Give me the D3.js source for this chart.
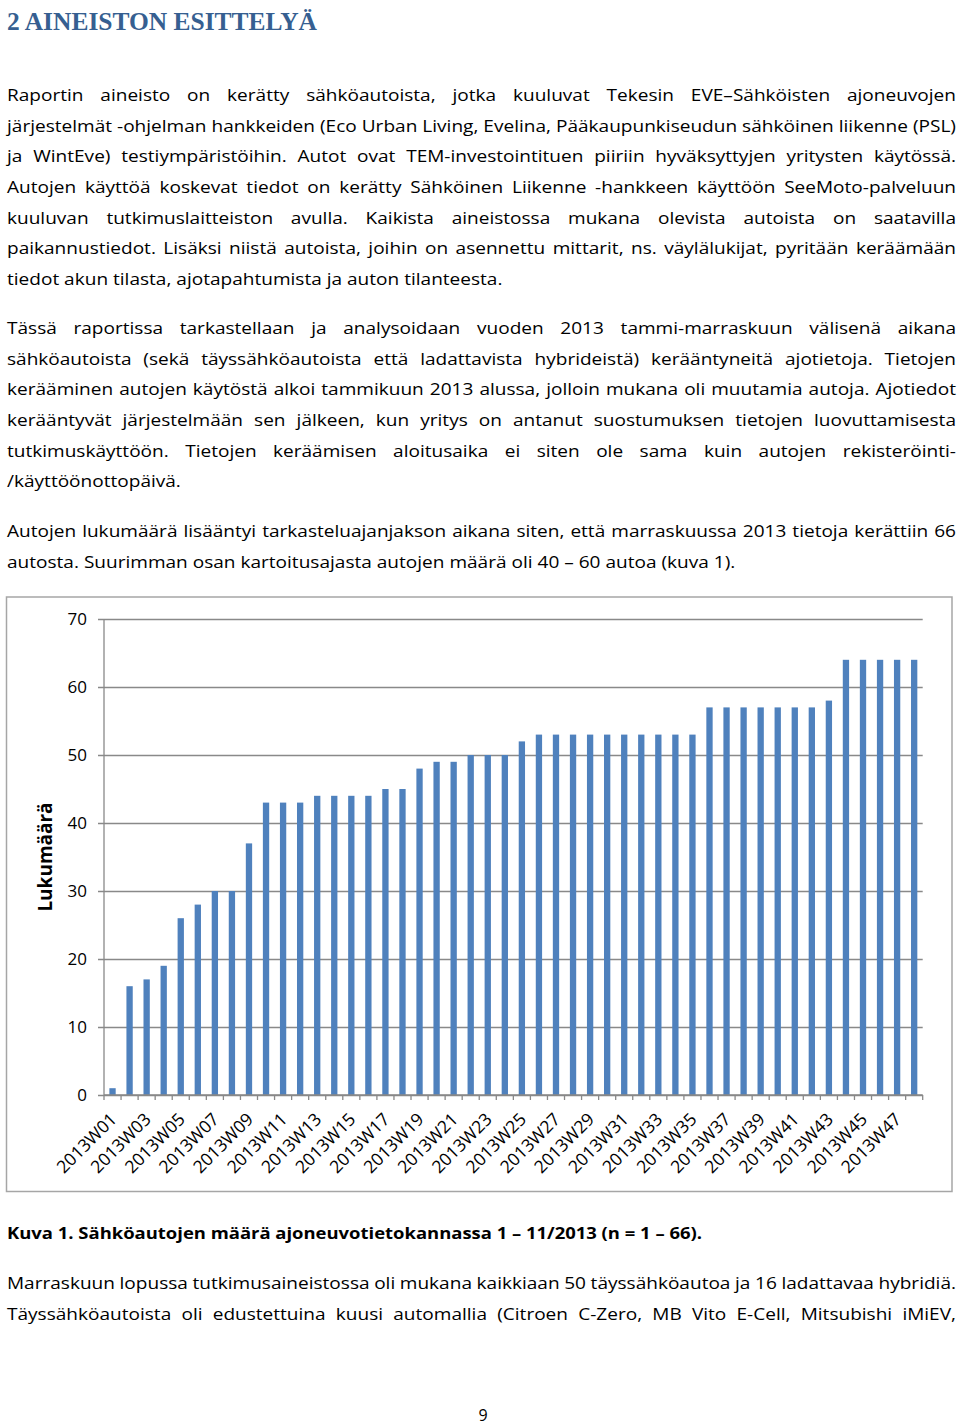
<!DOCTYPE html>
<html>
<head>
<meta charset="utf-8">
<script src="https://cdn.jsdelivr.net/npm/d3@7"></script>
<style>
  body { margin: 0; background: #fff; }
  svg text { font-family: "Open Sans", Lato, sans-serif; fill: #000; }
</style>
</head>
<body>
<svg id="page" width="960" height="1426"></svg>
<script>
// chart data
const weeks = ["2013W01","2013W02","2013W03","2013W04","2013W05","2013W06","2013W07","2013W08",
  "2013W09","2013W10","2013W11","2013W12","2013W13","2013W14","2013W15","2013W16",
  "2013W17","2013W18","2013W19","2013W20","2013W21","2013W22","2013W23","2013W24",
  "2013W25","2013W26","2013W27","2013W28","2013W29","2013W30","2013W31","2013W32",
  "2013W33","2013W34","2013W35","2013W36","2013W37","2013W38","2013W39","2013W40",
  "2013W41","2013W42","2013W43","2013W44","2013W45","2013W46","2013W47","2013W48"];
const carCounts = [1,16,17,19,26,28,30,30,
  37,43,43,43,44,44,44,44,
  45,45,48,49,49,50,50,50,
  52,53,53,53,53,53,53,53,
  53,53,53,57,57,57,57,57,
  57,57,58,64,64,64,64,64];
const yTicks = [0,10,20,30,40,50,60,70];
const yTitle = "Lukumäärä";

// page text, one entry per printed line
const heading = "2 AINEISTON ESITTELYÄ";
const para1 = [
  "Raportin aineisto on kerätty sähköautoista, jotka kuuluvat Tekesin EVE–Sähköisten ajoneuvojen",
  "järjestelmät -ohjelman hankkeiden (Eco Urban Living, Evelina, Pääkaupunkiseudun sähköinen liikenne (PSL)",
  "ja WintEve) testiympäristöihin. Autot ovat TEM-investointituen piiriin hyväksyttyjen yritysten käytössä.",
  "Autojen käyttöä koskevat tiedot on kerätty Sähköinen Liikenne -hankkeen käyttöön SeeMoto-palveluun",
  "kuuluvan tutkimuslaitteiston avulla. Kaikista aineistossa mukana olevista autoista on saatavilla",
  "paikannustiedot. Lisäksi niistä autoista, joihin on asennettu mittarit, ns. väylälukijat, pyritään keräämään",
  "tiedot akun tilasta, ajotapahtumista ja auton tilanteesta."
];
const para2 = [
  "Tässä raportissa tarkastellaan ja analysoidaan vuoden 2013 tammi-marraskuun välisenä aikana",
  "sähköautoista (sekä täyssähköautoista että ladattavista hybrideistä) kerääntyneitä ajotietoja. Tietojen",
  "kerääminen autojen käytöstä alkoi tammikuun 2013 alussa, jolloin mukana oli muutamia autoja. Ajotiedot",
  "kerääntyvät järjestelmään sen jälkeen, kun yritys on antanut suostumuksen tietojen luovuttamisesta",
  "tutkimuskäyttöön. Tietojen keräämisen aloitusaika ei siten ole sama kuin autojen rekisteröinti-",
  "/käyttöönottopäivä."
];
const para3 = [
  "Autojen lukumäärä lisääntyi tarkasteluajanjakson aikana siten, että marraskuussa 2013 tietoja kerättiin 66",
  "autosta. Suurimman osan kartoitusajasta autojen määrä oli 40 – 60 autoa (kuva 1)."
];
const caption = "Kuva 1. Sähköautojen määrä ajoneuvotietokannassa 1 – 11/2013 (n = 1 – 66).";
const para4 = [
  "Marraskuun lopussa tutkimusaineistossa oli mukana kaikkiaan 50 täyssähköautoa ja 16 ladattavaa hybridiä.",
  "Täyssähköautoista oli edustettuina kuusi automallia (Citroen C-Zero, MB Vito E-Cell, Mitsubishi iMiEV,"
];
const pageNo = "9";

const svg = d3.select("#page");
const textLeft = 7, textRight = 956, lineH = 30.67, bodySize = 16;

// heading
svg.append("text")
  .attr("x", textLeft).attr("y", 30)
  .attr("textLength", 310).attr("lengthAdjust", "spacingAndGlyphs")
  .style("font-family", "'Liberation Serif', 'DejaVu Serif', serif")
  .style("font-weight", "bold").style("font-size", "26px")
  .style("fill", "#365f91")
  .text(heading);

// the printed body font is wider than Open Sans, so widen the body text a bit
const probe = svg.append("text").style("font-size", bodySize + "px").text(para1[para1.length - 1]);
const stretch = 496 / probe.node().getComputedTextLength();
probe.remove();

const body = svg.append("g").attr("transform", `scale(${stretch},1)`);

// draw a paragraph; justified lines get stretched word spacing
function drawPara(lines, y0, justifyLast) {
  lines.forEach((line, i) => {
    const t = body.append("text")
      .attr("x", textLeft / stretch).attr("y", y0 + i * lineH)
      .style("font-size", bodySize + "px")
      .text(line);
    const last = i === lines.length - 1;
    if (!last || justifyLast) {
      const w = t.node().getComputedTextLength();
      const gaps = line.split(" ").length - 1;
      if (gaps > 0) t.attr("word-spacing", ((textRight - textLeft) / stretch - w) / gaps);
    }
  });
}

drawPara(para1, 101, false);
drawPara(para2, 334, false);
drawPara(para3, 537.5, false);
drawPara(para4, 1289, true);

// bold caption is narrower in print than Open Sans bold
svg.append("text")
  .attr("x", textLeft).attr("y", 1239)
  .attr("textLength", 695).attr("lengthAdjust", "spacingAndGlyphs")
  .style("font-size", bodySize + "px").style("font-weight", "bold")
  .text(caption);

svg.append("text")
  .attr("x", 483).attr("y", 1421)
  .attr("text-anchor", "middle")
  .style("font-size", bodySize + "px")
  .text(pageNo);

// ---- chart ----
const frame = {left: 6.5, top: 597, right: 952, bottom: 1191.5};
svg.append("rect")
  .attr("x", frame.left).attr("y", frame.top)
  .attr("width", frame.right - frame.left).attr("height", frame.bottom - frame.top)
  .attr("fill", "#fff").attr("stroke", "#a6a6a6").attr("stroke-width", 1.5);

const plot = {left: 104, right: 922.7, top: 619, bottom: 1095};
const axisColor = "#898989";

const x = d3.scaleBand()
  .domain(weeks)
  .range([plot.left, plot.right])
  .paddingInner(0.63)
  .paddingOuter(0.315);

const y = d3.scaleLinear()
  .domain([0, 70])
  .range([plot.bottom, plot.top]);

// gridlines + y labels
const yAxis = svg.append("g")
  .attr("transform", `translate(${plot.left},0)`)
  .call(d3.axisLeft(y).tickValues(yTicks).tickSize(-(plot.right - plot.left)).tickPadding(17));
yAxis.select(".domain").remove();
yAxis.selectAll(".tick line")
  .attr("x1", -6)
  .attr("stroke", axisColor).attr("stroke-width", 1.3);
yAxis.selectAll(".tick text")
  .style("font-family", "'Open Sans', Lato, sans-serif")
  .style("font-size", "17px").attr("fill", "#000");

// vertical axis line
svg.append("line")
  .attr("x1", plot.left).attr("x2", plot.left)
  .attr("y1", y(70)).attr("y2", y(0))
  .attr("stroke", axisColor).attr("stroke-width", 1.3);

// category tick marks at band boundaries
const step = x.step();
const boundaries = weeks.map(w => x(w) + x.bandwidth() / 2 - step / 2);
boundaries.push(plot.right);
svg.append("g").selectAll("line")
  .data(boundaries)
  .join("line")
  .attr("x1", d => d).attr("x2", d => d)
  .attr("y1", plot.bottom).attr("y2", plot.bottom + 5)
  .attr("stroke", axisColor).attr("stroke-width", 1.3);

// bars
svg.append("g").selectAll("rect")
  .data(carCounts)
  .join("rect")
  .attr("x", (d, i) => x(weeks[i]))
  .attr("y", d => y(d))
  .attr("width", x.bandwidth())
  .attr("height", d => y(0) - y(d))
  .attr("fill", "#4f81bd");

// x axis line on top of bars
svg.append("line")
  .attr("x1", plot.left).attr("x2", plot.right)
  .attr("y1", plot.bottom).attr("y2", plot.bottom)
  .attr("stroke", axisColor).attr("stroke-width", 1.3);

// rotated category labels, every other week
svg.append("g").selectAll("text")
  .data(weeks.filter((w, i) => i % 2 === 0))
  .join("text")
  .attr("transform", d => `translate(${x(d) + x.bandwidth() / 2 + 1},${plot.bottom + 21}) rotate(-45)`)
  .attr("text-anchor", "end")
  .attr("dy", "0.35em")
  .style("font-size", "17.5px")
  .text(d => d);

// y axis title
svg.append("text")
  .attr("transform", `translate(52,857) rotate(-90)`)
  .attr("text-anchor", "middle")
  .style("font-size", "19px").style("font-weight", "bold")
  .text(yTitle);
</script>
</body>
</html>
